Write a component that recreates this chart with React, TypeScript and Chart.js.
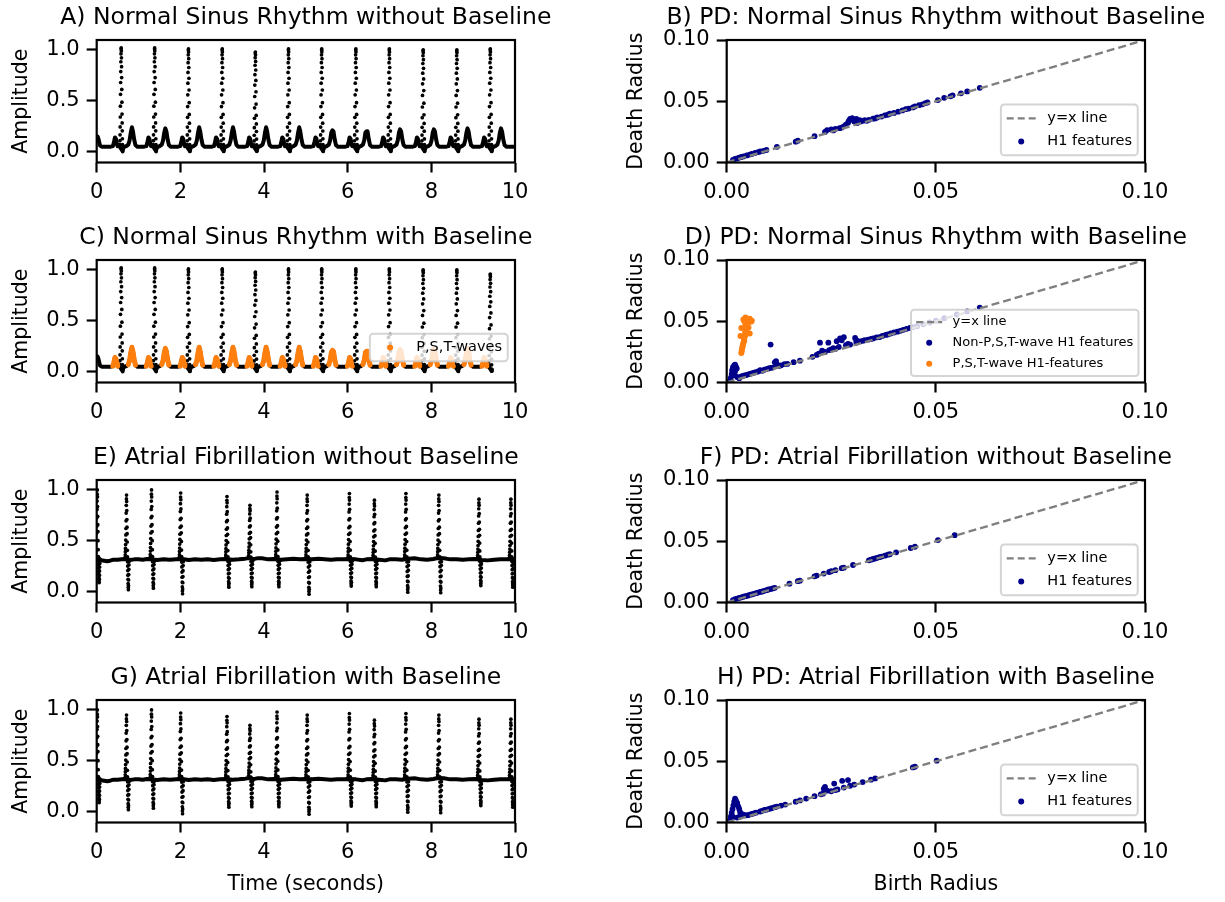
import React, { useEffect, useRef } from "react";
import { Chart, registerables } from "chart.js";

Chart.register(...registerables);
const FONT = "'DejaVu Sans', sans-serif";
Chart.defaults.font.family = FONT;
Chart.defaults.color = "#000";

// ---------------- text ----------------
const TITLES_LEFT = [
  "A) Normal Sinus Rhythm without Baseline",
  "C) Normal Sinus Rhythm with Baseline",
  "E) Atrial Fibrillation without Baseline",
  "G) Atrial Fibrillation with Baseline",
];
const TITLES_RIGHT = [
  "B) PD: Normal Sinus Rhythm without Baseline",
  "D) PD: Normal Sinus Rhythm with Baseline",
  "F) PD: Atrial Fibrillation without Baseline",
  "H) PD: Atrial Fibrillation with Baseline",
];
const ECG_X_TICKS = [0, 2, 4, 6, 8, 10];
const ECG_Y_TICKS = [0, 0.5, 1.0];
const PD_TICKS = [0, 0.05, 0.1];

// ---------------- ECG: normal sinus rhythm ----------------
const FS = 360; // samples per second of the recording
const NSR_BASE = 0.05;
const NSR_R_TIMES = [0.586, 1.386, 2.194, 3.002, 3.794, 4.586, 5.38, 6.195, 6.997, 7.805, 8.61, 9.41];
const NSR_R_PEAKS_A = [1.02, 1.02, 1.01, 1.01, 0.98, 1.01, 1.01, 1.01, 1.01, 1.0, 1.0, 1.01];
const NSR_R_PEAKS_C = [1.02, 1.02, 1.01, 1.01, 0.98, 1.01, 1.01, 1.01, 1.01, 1.0, 1.0, 0.96];
const NSR_T_PEAKS = [0.24, 0.23, 0.24, 0.24, 0.24, 0.24, 0.21, 0.2, 0.22, 0.22, 0.23, 0.23];
// QRS samples (fraction of R height above baseline)
const NSR_QRS = [0.02, 0.06, 0.12, 0.2, 0.3, 0.41, 0.53, 0.65, 0.76, 0.86, 0.94, 0.99, 1.0, 0.97, 0.9, 0.81, 0.7, 0.58, 0.45, 0.33, 0.24, 0.16, 0.08, 0.02, -0.03, -0.05, -0.03];
const NSR_QRS_PEAK = 12;
// P / T wave outline around each R peak (offset seconds, amplitude)
const NSR_WAVE_T = [-0.25, -0.2, -0.175, -0.15, -0.125, -0.1, -0.085, -0.035, -0.015, 0.03, 0.06, 0.12, 0.17, 0.2, 0.23, 0.255, 0.28, 0.31, 0.34, 0.38];
const NSR_WAVE_V = [0.05, 0.055, 0.09, 0.14, 0.125, 0.07, 0.055, 0.05, 0.035, 0.01, 0.045, 0.055, 0.07, 0.11, 0.19, 0.24, 0.2, 0.12, 0.065, 0.05];
const NSR_T_INDEX = 15;
const NSR_WAVE_SEGMENTS = [[1, 6], [12, 18]]; // P wave, T wave
const NSR_LEAD_T = [0.0, 0.02, 0.045, 0.08, 0.12];
const NSR_LEAD_V = [0.11, 0.15, 0.12, 0.06, 0.05];
const NSR_TAIL_T = [10];
const NSR_TAIL_V = [0.05];
const NSR_C_END = 9.44;

// ---------------- ECG: atrial fibrillation ----------------
const AF_BASE = 0.318;
const AF_R_TIMES = [0.015, 0.713, 1.311, 2.008, 3.115, 3.664, 4.311, 5.033, 6.041, 6.639, 7.393, 8.18, 9.139, 9.902];
const AF_R_PEAKS = [1.0, 0.95, 1.0, 0.97, 0.935, 0.85, 0.98, 0.95, 0.965, 0.9, 0.965, 0.95, 0.91, 0.91];
const AF_R_TROUGHS = [0.09, 0.02, 0.035, -0.02, 0.045, 0.05, 0.05, -0.025, 0.055, 0.05, -0.005, -0.01, 0.06, 0.045];
const AF_QRS = [0.03, 0.07, 0.12, 0.17, 0.23, 0.3, 0.38, 0.48, 0.6, 0.72, 0.84, 0.94, 1.0, 0.9, 0.76, 0.62, 0.5, 0.4, 0.27, 0.14, 0.04, -0.08, -0.22, -0.37, -0.52, -0.66, -0.8, -0.92, -1.0, -0.86, -0.68, -0.5, -0.33, -0.18, -0.07];
const AF_QRS_PEAK = 12;
const AF_BASE_T = [0, 0.05, 0.1, 0.18, 0.25, 0.32, 0.4, 0.5, 0.6, 0.7, 0.8, 0.9, 1.0, 1.1, 1.2, 1.3, 1.45, 1.6, 1.75, 1.9, 2.05, 2.2, 2.35, 2.5, 2.65, 2.8, 2.95, 3.1, 3.25, 3.4, 3.55, 3.65, 3.75, 3.85, 3.95, 4.1, 4.25, 4.4, 4.55, 4.7, 4.85, 5.0, 5.15, 5.3, 5.45, 5.6, 5.75, 5.9, 6.05, 6.2, 6.35, 6.45, 6.6, 6.75, 6.9, 7.0, 7.15, 7.3, 7.45, 7.6, 7.75, 7.9, 8.05, 8.15, 8.3, 8.45, 8.6, 8.75, 8.9, 9.05, 9.2, 9.35, 9.5, 9.65, 9.8, 9.9, 10.0];
const AF_BASE_V = [0.325, 0.33, 0.31, 0.305, 0.3, 0.305, 0.315, 0.315, 0.32, 0.322, 0.312, 0.318, 0.32, 0.315, 0.322, 0.318, 0.312, 0.32, 0.315, 0.318, 0.322, 0.312, 0.318, 0.315, 0.32, 0.312, 0.318, 0.322, 0.315, 0.318, 0.325, 0.332, 0.32, 0.33, 0.328, 0.318, 0.322, 0.315, 0.32, 0.325, 0.318, 0.322, 0.318, 0.325, 0.32, 0.315, 0.32, 0.318, 0.322, 0.318, 0.31, 0.318, 0.322, 0.315, 0.308, 0.318, 0.32, 0.315, 0.325, 0.328, 0.318, 0.315, 0.322, 0.332, 0.328, 0.318, 0.32, 0.315, 0.318, 0.322, 0.312, 0.308, 0.315, 0.32, 0.318, 0.322, 0.318];

// ---------------- persistence diagrams (birth, death) ----------------
const PD_B: [number, number][] = [[0.0015,0.0022],[0.002,0.003],[0.0025,0.0033],[0.003,0.004],[0.0035,0.0045],[0.004,0.005],[0.0048,0.0058],[0.0055,0.0065],[0.006,0.007],[0.0068,0.0078],[0.0075,0.0085],[0.008,0.009],[0.0088,0.0095],[0.0095,0.0102],[0.012,0.0128],[0.0165,0.017],[0.017,0.0178],[0.021,0.0215],[0.0235,0.025],[0.024,0.0265],[0.025,0.027],[0.0255,0.0262],[0.026,0.0275],[0.027,0.028],[0.0275,0.0285],[0.028,0.0295],[0.0285,0.031],[0.029,0.0325],[0.0292,0.034],[0.0295,0.0355],[0.03,0.0362],[0.0302,0.0348],[0.0305,0.0335],[0.031,0.0355],[0.0312,0.0322],[0.0318,0.0345],[0.032,0.0335],[0.0325,0.034],[0.033,0.0345],[0.0335,0.034],[0.034,0.0348],[0.035,0.0358],[0.0355,0.036],[0.036,0.0368],[0.037,0.0375],[0.0378,0.0385],[0.0385,0.039],[0.039,0.0398],[0.04,0.0405],[0.041,0.0415],[0.042,0.0425],[0.0428,0.0435],[0.0435,0.044],[0.0445,0.045],[0.045,0.0458],[0.046,0.0468],[0.0468,0.0475],[0.0475,0.0485],[0.048,0.049],[0.0505,0.051],[0.052,0.0528],[0.0535,0.054],[0.054,0.0548],[0.056,0.0565],[0.0575,0.058],[0.0605,0.061]];
const PD_D_OTHER: [number, number][] = [[0.0008,0.0015],[0.001,0.004],[0.0012,0.007],[0.0013,0.01],[0.0015,0.0125],[0.0018,0.014],[0.002,0.0145],[0.0022,0.013],[0.0024,0.0115],[0.002,0.009],[0.0018,0.006],[0.0025,0.0045],[0.003,0.0035],[0.0035,0.005],[0.004,0.0055],[0.0045,0.006],[0.005,0.0065],[0.0055,0.007],[0.006,0.0075],[0.0065,0.008],[0.007,0.0085],[0.0075,0.009],[0.008,0.01],[0.0085,0.0095],[0.009,0.0105],[0.0095,0.011],[0.01,0.0115],[0.0105,0.012],[0.011,0.0122],[0.0115,0.0165],[0.0118,0.0175],[0.012,0.015],[0.0125,0.0135],[0.013,0.014],[0.0138,0.015],[0.0145,0.0152],[0.016,0.0166],[0.0175,0.0178],[0.0105,0.031],[0.0205,0.021],[0.0215,0.0225],[0.022,0.0235],[0.0223,0.0325],[0.0228,0.026],[0.0235,0.025],[0.0243,0.0325],[0.0245,0.0265],[0.025,0.027],[0.0255,0.028],[0.026,0.0275],[0.0263,0.0337],[0.0268,0.029],[0.0271,0.0359],[0.0275,0.0345],[0.028,0.037],[0.0285,0.0305],[0.029,0.0315],[0.0295,0.031],[0.0307,0.0364],[0.031,0.0345],[0.031,0.0325],[0.0318,0.0335],[0.0325,0.034],[0.033,0.0345],[0.0338,0.035],[0.0345,0.0355],[0.035,0.036],[0.0358,0.0368],[0.0365,0.037],[0.0372,0.038],[0.038,0.0388],[0.0385,0.0392],[0.0392,0.04],[0.04,0.0408],[0.0408,0.0415],[0.0415,0.0422],[0.0422,0.043],[0.043,0.0438],[0.0438,0.0445],[0.0445,0.0452],[0.0455,0.046],[0.047,0.0475],[0.0485,0.049],[0.05,0.0505],[0.052,0.0525],[0.055,0.0555],[0.0575,0.058],[0.0605,0.0612]];
const PD_D_WAVES: [number, number][] = [[0.0035,0.024],[0.0036,0.026],[0.0037,0.028],[0.0038,0.0295],[0.0039,0.031],[0.004,0.0325],[0.0042,0.034],[0.0041,0.036],[0.0043,0.0375],[0.0045,0.039],[0.0044,0.041],[0.0046,0.0425],[0.0048,0.044],[0.0047,0.046],[0.0045,0.0475],[0.005,0.0485],[0.0042,0.05],[0.004,0.0515],[0.0045,0.053],[0.0055,0.052],[0.006,0.0505],[0.0052,0.045],[0.0055,0.04],[0.0035,0.0445],[0.0058,0.0495],[0.0033,0.038]];
const PD_F: [number, number][] = [[0.0015,0.002],[0.002,0.0028],[0.0025,0.0032],[0.003,0.0037],[0.0035,0.0042],[0.004,0.0047],[0.0045,0.0052],[0.005,0.0056],[0.0055,0.0062],[0.006,0.0066],[0.0065,0.0071],[0.007,0.0076],[0.0075,0.0081],[0.008,0.0086],[0.0085,0.009],[0.009,0.0095],[0.0095,0.0101],[0.01,0.0106],[0.0105,0.011],[0.011,0.0115],[0.0115,0.012],[0.015,0.0154],[0.017,0.0174],[0.0175,0.0178],[0.021,0.0214],[0.0215,0.022],[0.0232,0.0236],[0.0245,0.0249],[0.025,0.0255],[0.026,0.0264],[0.0275,0.028],[0.028,0.0284],[0.0302,0.0306],[0.034,0.0344],[0.0345,0.035],[0.035,0.0355],[0.0355,0.036],[0.036,0.0365],[0.0365,0.037],[0.037,0.0375],[0.0378,0.0382],[0.0385,0.039],[0.039,0.0394],[0.0405,0.041],[0.044,0.0445],[0.045,0.0455],[0.0505,0.051],[0.0545,0.055]];
const PD_H: [number, number][] = [[0.0008,0.002],[0.001,0.005],[0.0012,0.008],[0.0014,0.011],[0.0016,0.014],[0.0018,0.017],[0.002,0.0195],[0.0022,0.018],[0.0025,0.016],[0.0028,0.013],[0.003,0.011],[0.0032,0.0085],[0.0035,0.007],[0.0038,0.006],[0.004,0.0065],[0.0015,0.0045],[0.0025,0.004],[0.003,0.0045],[0.0045,0.0058],[0.005,0.006],[0.0055,0.0065],[0.006,0.007],[0.0065,0.0075],[0.007,0.008],[0.008,0.009],[0.0085,0.0095],[0.009,0.0102],[0.0095,0.0105],[0.01,0.011],[0.0105,0.0115],[0.011,0.012],[0.0115,0.0125],[0.012,0.013],[0.013,0.0138],[0.014,0.0146],[0.0165,0.017],[0.0175,0.018],[0.019,0.0195],[0.021,0.0215],[0.0225,0.023],[0.023,0.0235],[0.0232,0.0275],[0.0235,0.029],[0.024,0.026],[0.025,0.0255],[0.0257,0.0318],[0.026,0.0265],[0.0265,0.027],[0.0276,0.034],[0.028,0.0285],[0.029,0.0346],[0.0295,0.03],[0.0305,0.031],[0.0325,0.033],[0.0345,0.035],[0.0355,0.036],[0.0445,0.045],[0.045,0.0455],[0.0502,0.0505]];

// ---------------- colours ----------------
const BLACK = "#000000";
const ORANGE = "#ff7f0e";
const NAVY = "#00008b";
const GRAY = "#7f7f7f";

// ---------------- layout (pixels) ----------------
const ROW_TOPS = [0, 220, 440, 660];
const AREA_TOP = 40;
const AREA_BOTTOM = 162.5;
const LEFT_CANVAS = { x: 0, w: 612, areaL: 96.7, areaR: 515, titleSize: 23.5, tickSize: 21, labelPad: 9.7 };
const RIGHT_CANVAS = { x: 616, w: 640, areaL: 110.7, areaR: 529, titleSize: 23.5, tickSize: 21, labelPad: 8.7 };

type Pt = { x: number; y: number | null };
type LegendItem = { kind: "dash" | "dot"; color: string; label: string };
type LegendSpec = { items: LegendItem[]; fontSize: number; centerFrac?: number };

function qrsDots(times: number[], peaks: number[], base: number, shape: number[], peakIdx: number, troughs?: number[]): Pt[] {
  const out: Pt[] = [];
  times.forEach((r, k) => {
    shape.forEach((s, i) => {
      const v = s < 0 && troughs ? base + s * (base - troughs[k]) : base + s * (peaks[k] - base);
      out.push({ x: r + (i - peakIdx) / FS, y: v });
    });
  });
  return out;
}

function nsrLine(end: number): Pt[] {
  const pts: Pt[] = NSR_LEAD_T.map((t, i) => ({ x: t, y: NSR_LEAD_V[i] }));
  NSR_R_TIMES.forEach((r, k) => {
    NSR_WAVE_T.forEach((o, i) => pts.push({ x: r + o, y: i === NSR_T_INDEX ? NSR_T_PEAKS[k] : NSR_WAVE_V[i] }));
  });
  NSR_TAIL_T.forEach((t, i) => pts.push({ x: t, y: NSR_TAIL_V[i] }));
  return pts.filter((p) => p.x <= end);
}

function nsrWaves(end: number): Pt[] {
  const pts: Pt[] = [];
  NSR_R_TIMES.forEach((r, k) => {
    NSR_WAVE_SEGMENTS.forEach(([a, b]) => {
      const seg: Pt[] = [];
      for (let i = a; i <= b; i++) seg.push({ x: r + NSR_WAVE_T[i], y: i === NSR_T_INDEX ? NSR_T_PEAKS[k] : NSR_WAVE_V[i] });
      const last = seg[seg.length - 1].x;
      if (last <= end) {
        pts.push(...seg);
        pts.push({ x: last + 0.001, y: null });
      }
    });
  });
  return pts;
}

function drawLegend(ctx: CanvasRenderingContext2D, a: any, spec: LegendSpec) {
  const fs = spec.fontSize;
  ctx.font = `${fs}px ${FONT}`;
  const textW = Math.max(...spec.items.map((it) => ctx.measureText(it.label).width));
  const pad = 0.4 * fs, hl = 2 * fs, htp = 0.8 * fs, rowH = 1.1 * fs, sp = 0.5 * fs;
  const n = spec.items.length;
  const w = pad * 2 + hl + htp + textW;
  const h = pad * 2 + rowH * n + sp * (n - 1);
  const right = a.right - 0.5 * fs;
  const left = right - w;
  const top = spec.centerFrac != null ? a.top + spec.centerFrac * (a.bottom - a.top) - h / 2 : a.bottom - 0.5 * fs - h;
  const rr = 0.25 * fs;
  ctx.beginPath();
  ctx.moveTo(left + rr, top);
  ctx.lineTo(left + w - rr, top);
  ctx.arcTo(left + w, top, left + w, top + rr, rr);
  ctx.lineTo(left + w, top + h - rr);
  ctx.arcTo(left + w, top + h, left + w - rr, top + h, rr);
  ctx.lineTo(left + rr, top + h);
  ctx.arcTo(left, top + h, left, top + h - rr, rr);
  ctx.lineTo(left, top + rr);
  ctx.arcTo(left, top, left + rr, top, rr);
  ctx.closePath();
  ctx.fillStyle = "rgba(255,255,255,0.8)";
  ctx.fill();
  ctx.strokeStyle = "rgba(204,204,204,0.85)";
  ctx.lineWidth = 2;
  ctx.setLineDash([]);
  ctx.stroke();
  spec.items.forEach((it, i) => {
    const cy = top + pad + rowH / 2 + i * (rowH + sp);
    const hx = left + pad;
    if (it.kind === "dash") {
      ctx.beginPath();
      ctx.strokeStyle = it.color;
      ctx.lineWidth = 2.3;
      ctx.setLineDash([7, 4]);
      ctx.moveTo(hx, cy);
      ctx.lineTo(hx + hl, cy);
      ctx.stroke();
      ctx.setLineDash([]);
    } else {
      ctx.beginPath();
      ctx.fillStyle = it.color;
      ctx.arc(hx + hl / 2, cy, 3, 0, Math.PI * 2);
      ctx.fill();
    }
    ctx.fillStyle = "#000";
    ctx.textAlign = "left";
    ctx.textBaseline = "middle";
    ctx.fillText(it.label, hx + hl + htp, cy);
  });
}

function framePlugin(title: string, titleSize: number, legend?: LegendSpec) {
  return {
    id: "frameTitleLegend",
    afterDatasetsDraw(chart: any) {
      const { ctx, chartArea: a } = chart;
      ctx.save();
      ctx.strokeStyle = "#000";
      ctx.lineWidth = 2.2;
      ctx.setLineDash([]);
      ctx.strokeRect(a.left, a.top, a.right - a.left, a.bottom - a.top);
      if (legend) drawLegend(ctx, a, legend);
      ctx.fillStyle = "#000";
      ctx.font = `${titleSize}px ${FONT}`;
      ctx.textAlign = "center";
      ctx.textBaseline = "alphabetic";
      ctx.fillText(title, (a.left + a.right) / 2, 15 + 0.365 * titleSize);
      ctx.restore();
    },
  };
}

function axisCommon(ticks: number[], fmt: (v: number) => string, pad: number, size: number) {
  return {
    type: "linear" as const,
    afterBuildTicks: (s: any) => {
      s.ticks = ticks.map((v) => ({ value: v }));
    },
    ticks: {
      font: { family: FONT, size },
      color: "#000",
      padding: pad,
      maxRotation: 0,
      autoSkip: false,
      callback: (v: any) => fmt(Number(v)),
    },
    grid: { display: true, drawOnChartArea: false, drawTicks: true, tickLength: 10, tickWidth: 2.2, tickColor: "#000" },
    border: { display: false },
  };
}

function baseConfig(opts: {
  canvas: typeof LEFT_CANVAS;
  height: number;
  title: string;
  datasets: any[];
  xTicks: number[];
  xMin: number;
  xMax: number;
  xFmt: (v: number) => string;
  yTicks: number[];
  yMin: number;
  yMax: number;
  yFmt: (v: number) => string;
  yTitle: string;
  xTitle?: string;
  legend?: LegendSpec;
}) {
  const H = opts.height;
  const c = opts.canvas;
  return {
    type: "scatter" as const,
    data: { datasets: opts.datasets },
    options: {
      animation: false as const,
      responsive: false,
      events: [],
      devicePixelRatio: 1,
      layout: { padding: { left: 0, right: c.w - c.areaR, top: AREA_TOP, bottom: 0 } },
      plugins: {
        legend: { display: false },
        tooltip: { enabled: false },
        title: { display: false },
      },
      scales: {
        x: {
          ...axisCommon(opts.xTicks, opts.xFmt, 7, c.tickSize),
          min: opts.xMin,
          max: opts.xMax,
          position: "bottom" as const,
          title: opts.xTitle
            ? { display: true, text: opts.xTitle, color: "#000", font: { family: FONT, size: 20.5, lineHeight: 1.2 }, padding: { top: 0, bottom: 5 } }
            : { display: false },
          afterFit: (s: any) => {
            s.height = H - AREA_BOTTOM;
          },
        },
        y: {
          ...axisCommon(opts.yTicks, opts.yFmt, 7, c.tickSize),
          min: opts.yMin,
          max: opts.yMax,
          position: "left" as const,
          title: { display: true, text: opts.yTitle, color: "#000", font: { family: FONT, size: 20.5, lineHeight: 1.2 }, padding: { top: c.labelPad, bottom: 0 } },
          afterFit: (s: any) => {
            s.width = c.areaL;
          },
        },
      },
    },
    plugins: [framePlugin(opts.title, c.titleSize, opts.legend)],
  };
}

function ecgConfig(row: number) {
  const isNsr = row < 2;
  const isC = row === 1;
  const datasets: any[] = [];
  if (isC) {
    datasets.push({
      label: "P,S,T-waves",
      data: nsrWaves(NSR_C_END),
      showLine: true,
      spanGaps: false,
      borderColor: ORANGE,
      borderWidth: 5,
      borderJoinStyle: "round",
      borderCapStyle: "round",
      pointRadius: 0,
    });
  }
  if (isNsr) {
    datasets.push({
      label: "spikes",
      data: qrsDots(NSR_R_TIMES, isC ? NSR_R_PEAKS_C : NSR_R_PEAKS_A, NSR_BASE, NSR_QRS, NSR_QRS_PEAK),
      pointRadius: 1.85,
      pointBackgroundColor: BLACK,
      pointBorderWidth: 0,
    });
    datasets.push({
      label: "signal",
      data: nsrLine(isC ? NSR_C_END : 10),
      showLine: true,
      borderColor: BLACK,
      borderWidth: 4,
      borderJoinStyle: "round",
      borderCapStyle: "round",
      pointRadius: 0,
    });
  } else {
    datasets.push({
      label: "spikes",
      data: qrsDots(AF_R_TIMES, AF_R_PEAKS, AF_BASE, AF_QRS, AF_QRS_PEAK, AF_R_TROUGHS),
      pointRadius: 1.85,
      pointBackgroundColor: BLACK,
      pointBorderWidth: 0,
    });
    datasets.push({
      label: "signal",
      data: AF_BASE_T.map((t, i) => ({ x: t, y: AF_BASE_V[i] })),
      showLine: true,
      borderColor: BLACK,
      borderWidth: 4,
      borderJoinStyle: "round",
      pointRadius: 0,
    });
  }
  return baseConfig({
    canvas: LEFT_CANVAS,
    height: row === 3 ? 242 : 220,
    title: TITLES_LEFT[row],
    datasets,
    xTicks: ECG_X_TICKS,
    xMin: 0,
    xMax: 10,
    xFmt: (v) => String(v),
    yTicks: ECG_Y_TICKS,
    yMin: -0.106,
    yMax: 1.098,
    yFmt: (v) => v.toFixed(1),
    yTitle: "Amplitude",
    xTitle: row === 3 ? "Time (seconds)" : undefined,
    legend: isC ? { fontSize: 14.5, centerFrac: 0.714, items: [{ kind: "dot", color: ORANGE, label: "P,S,T-waves" }] } : undefined,
  });
}

function pdConfig(row: number) {
  const pairs = (arr: [number, number][]) => arr.map(([b, d]) => ({ x: b, y: d }));
  const datasets: any[] = [
    {
      label: "y=x line",
      data: [{ x: PD_TICKS[0], y: PD_TICKS[0] }, { x: PD_TICKS[2], y: PD_TICKS[2] }],
      showLine: true,
      borderColor: GRAY,
      borderWidth: 2.4,
      borderDash: [8, 4],
      pointRadius: 0,
    },
  ];
  let legend: LegendSpec;
  if (row === 1) {
    datasets.push({ label: "P,S,T-wave H1-features", data: pairs(PD_D_WAVES), pointRadius: 3, pointBackgroundColor: ORANGE, pointBorderWidth: 0 });
    datasets.push({ label: "Non-P,S,T-wave H1 features", data: pairs(PD_D_OTHER), pointRadius: 2.9, pointBackgroundColor: NAVY, pointBorderWidth: 0 });
    legend = {
      fontSize: 13,
      items: [
        { kind: "dash", color: GRAY, label: "y=x line" },
        { kind: "dot", color: NAVY, label: "Non-P,S,T-wave H1 features" },
        { kind: "dot", color: ORANGE, label: "P,S,T-wave H1-features" },
      ],
    };
  } else {
    const src = row === 0 ? PD_B : row === 2 ? PD_F : PD_H;
    datasets.push({ label: "H1 features", data: pairs(src), pointRadius: 2.9, pointBackgroundColor: NAVY, pointBorderWidth: 0 });
    legend = {
      fontSize: 14.5,
      items: [
        { kind: "dash", color: GRAY, label: "y=x line" },
        { kind: "dot", color: NAVY, label: "H1 features" },
      ],
    };
  }
  return baseConfig({
    canvas: RIGHT_CANVAS,
    height: row === 3 ? 242 : 220,
    title: TITLES_RIGHT[row],
    datasets,
    xTicks: PD_TICKS,
    xMin: 0,
    xMax: 0.1,
    xFmt: (v) => v.toFixed(2),
    yTicks: PD_TICKS,
    yMin: 0,
    yMax: 0.1,
    yFmt: (v) => v.toFixed(2),
    yTitle: "Death Radius",
    xTitle: row === 3 ? "Birth Radius" : undefined,
    legend,
  });
}

function ChartCanvas(props: { left: number; top: number; width: number; height: number; make: () => any }) {
  const ref = useRef<HTMLCanvasElement | null>(null);
  useEffect(() => {
    if (!ref.current) return;
    const chart = new Chart(ref.current, props.make());
    return () => chart.destroy();
  }, []);
  return (
    <canvas
      ref={ref}
      width={props.width}
      height={props.height}
      style={{ position: "absolute", left: props.left, top: props.top, width: props.width, height: props.height }}
    />
  );
}

export default function App() {
  return (
    <div style={{ position: "absolute", left: 0, top: 0, width: 1225, height: 902, overflow: "hidden", background: "#fff" }}>
      {ROW_TOPS.map((top, r) => (
        <React.Fragment key={r}>
          <ChartCanvas left={LEFT_CANVAS.x} top={top} width={LEFT_CANVAS.w} height={r === 3 ? 242 : 220} make={() => ecgConfig(r)} />
          <ChartCanvas left={RIGHT_CANVAS.x} top={top} width={RIGHT_CANVAS.w} height={r === 3 ? 242 : 220} make={() => pdConfig(r)} />
        </React.Fragment>
      ))}
    </div>
  );
}
